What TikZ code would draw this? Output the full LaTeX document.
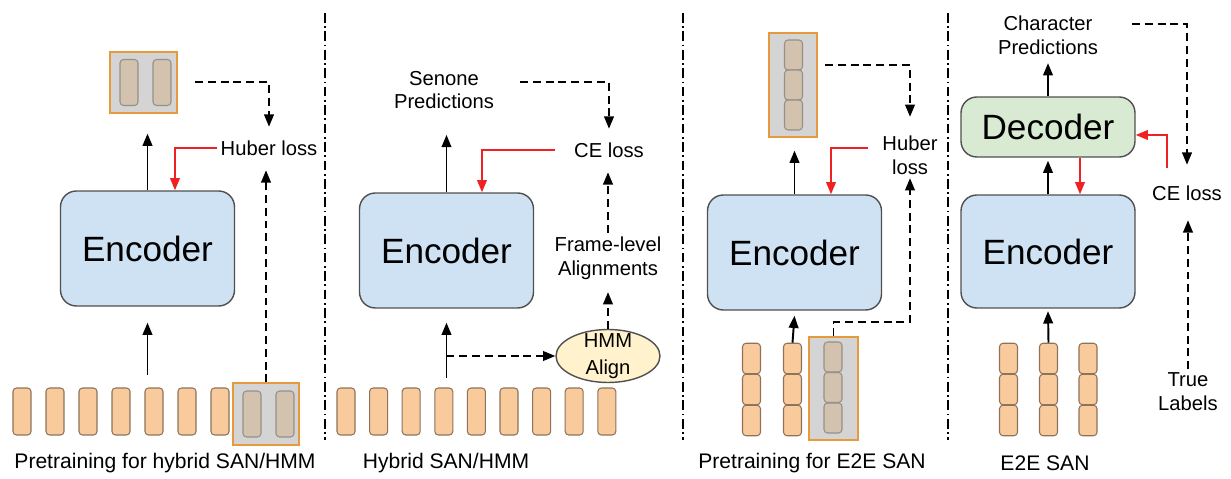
\documentclass[tikz,border=0pt]{standalone}
\usepackage{fontspec}
\setmainfont{Liberation Sans}
\usepackage{tikz}
\usetikzlibrary{arrows.meta,positioning,calc,shapes.geometric}
\usepackage{xcolor}
\definecolor{frmfill}{HTML}{F9CB9C}
\definecolor{frmline}{HTML}{8C735A}
\definecolor{tgtfill}{HTML}{D2C2AE}
\definecolor{tgtline}{HTML}{969088}
\definecolor{boxfill}{HTML}{D4D4D4}
\definecolor{boxline}{HTML}{E69A3C}
\definecolor{encfill}{HTML}{CFE2F3}
\definecolor{decfill}{HTML}{D9EAD3}
\definecolor{alnfill}{HTML}{FFF2CC}
\definecolor{blkline}{HTML}{505050}
\definecolor{lossred}{HTML}{EE2222}
\tikzset{
  frm/.style={rectangle, rounded corners=2pt, draw=frmline, fill=frmfill, line width=0.6pt, minimum width=0.36cm, minimum height=0.94cm, inner sep=0pt},
  cell/.style={frm, minimum height=0.61cm},
  tgt/.style={frm, draw=tgtline, fill=tgtfill, minimum height=0.92cm},
  tgtcell/.style={tgt, minimum height=0.6cm},
  tbox/.style={rectangle, draw=boxline, fill=boxfill, line width=0.7pt, inner sep=0pt},
  blk/.style={rectangle, rounded corners=9pt, draw=blkline, line width=0.8pt, minimum width=3.48cm, font=\fontsize{20}{24}\selectfont},
  lbl/.style={font=\fontsize{11.5}{13.5}\selectfont, align=center, inner sep=2pt},
  capt/.style={font=\fontsize{12}{14}\selectfont, inner sep=2pt},
  arr/.style={-{Triangle[length=7pt,width=5.5pt]}, line width=1.1pt},
  darr/.style={arr, dash pattern=on 4.5pt off 2.8pt},
  rarr/.style={arr, lossred},
  divider/.style={line width=1.1pt, dash pattern=on 5.5pt off 2pt on 1pt off 2pt}
}
\begin{document}
\begin{tikzpicture}[x=0.02cm, y=-0.02cm]
\useasboundingbox (0,0) rectangle (1231,479);

\foreach \x in {325,683,948} \draw[divider] (\x,13) -- (\x,440);

\node[blk, fill=encfill, minimum height=2.3cm] (enc_a) at (147.5,248.5) {Encoder};
\node[tbox, minimum width=1.34cm, minimum height=1.22cm] (out_a) at (143.5,82.5) {};
\node[tgt] (out_a1) at (129,82.5) {};
\node[tgt] (out_a2) at (162,82.5) {};
\node[lbl] (huber_a) at (269,148) {Huber loss};
\foreach \i in {0,...,6} \node[frm] (in_a\i) at (22+33*\i,411.5) {};
\node[tbox, minimum width=1.32cm, minimum height=1.24cm] (msk_a) at (266,414) {};
\node[tgt] (msk_a1) at (252,414) {};
\node[tgt] (msk_a2) at (285,414) {};
\node[capt] (cap_a) at (165,463) {Pretraining for hybrid SAN/HMM};
\coordinate (src_a) at (147.5,375);
\coordinate (sim_a) at (195,82);
\path (src_a) edge[arr] ([yshift=-0.32cm]enc_a.south);
\path (enc_a.north) edge[arr, shorten >=0.4cm] (enc_a.north |- out_a.south);
\draw[darr] (sim_a) -| ([yshift=0.2cm]huber_a.north);
\draw[rarr] (huber_a.west) -| ([xshift=0.55cm]enc_a.north);
\draw[darr, shorten >=0.22cm] (msk_a.north) -- (msk_a.north |- huber_a.south);

\node[blk, fill=encfill, minimum height=2.3cm] (enc_b) at (446.5,250.5) {Encoder};
\node[lbl] (sen_b) at (444,90) {Senone\\Predictions};
\node[lbl] (ce_b) at (609,150) {CE loss};
\node[lbl] (aln_b) at (608,258) {Frame-level\\Alignments};
\node[ellipse, draw=blkline, fill=alnfill, line width=0.8pt, lbl, font=\fontsize{11.5}{15}\selectfont, inner xsep=0pt, inner ysep=-2.5pt, minimum width=2.08cm, minimum height=1.06cm] (hmm_b) at (608,356) {HMM\\Align};
\foreach \i in {0,...,8} \node[frm] (in_b\i) at (346+32.6*\i,411.5) {};
\node[capt] (cap_b) at (446,463) {Hybrid SAN/HMM};
\coordinate (src_b) at (446.5,378);
\coordinate (brn_b) at (446.5,356);
\coordinate (sim_b) at (520,82);
\path (src_b) edge[arr] ([yshift=-0.28cm]enc_b.south);
\path (enc_b.north) edge[arr, shorten >=0.44cm] (enc_b.north |- sen_b.south);
\draw[darr] (sim_b) -| ([yshift=0.2cm]ce_b.north);
\draw[rarr] ([xshift=-0.3cm]ce_b.west) -| ([xshift=0.71cm]enc_b.north);
\draw[darr, shorten >=0.22cm] (aln_b.north) -- (aln_b.north |- ce_b.south);
\draw[darr, shorten >=0.18cm] (hmm_b.north) -- (aln_b.south);
\draw[darr] (brn_b) -- (hmm_b.west);

\node[blk, fill=encfill, minimum height=2.3cm] (enc_c) at (794.5,252.5) {Encoder};
\node[tbox, minimum width=0.96cm, minimum height=2.08cm] (out_c) at (793,85) {};
\foreach \j in {0,1,2} \node[tgtcell] (out_c\j) at (793.5,55+30*\j) {};
\node[lbl] (huber_c) at (910,155) {Huber\\loss};
\foreach \i/\x in {0/751.5,1/792.5} \foreach \j in {0,1,2} \node[cell] (in_c\i\j) at (\x,358.5+31*\j) {};
\node[tbox, minimum width=0.98cm, minimum height=2.06cm] (msk_c) at (833.5,388.5) {};
\foreach \j in {0,1,2} \node[tgtcell] (msk_c\j) at (833,357+30.5*\j) {};
\node[capt] (cap_c) at (812,463) {Pretraining for E2E SAN};
\coordinate (sim_c) at (825,65);
\path (enc_c.north) edge[arr, shorten >=0.26cm] (enc_c.north |- out_c.south);
\draw[darr] (sim_c) -| ([yshift=0.3cm]huber_c.north);
\draw[rarr] ([xshift=-0.22cm, yshift=0.14cm]huber_c.west) -| ([xshift=0.73cm]enc_c.north);
\path (in_c10.north) edge[arr] ([yshift=-0.1cm]enc_c.south);
\draw[darr] (msk_c.north) -- ++(0,-14) -| (huber_c.south);

\node[lbl] (chr_d) at (1048,35) {Character\\Predictions};
\node[blk, fill=decfill, minimum height=1.2cm] (dec_d) at (1048,127) {Decoder};
\node[blk, fill=encfill, minimum height=2.26cm] (enc_d) at (1048,251.5) {Encoder};
\node[lbl] (ce_d) at (1187,193) {CE loss};
\node[lbl] (tru_d) at (1188,392) {True\\Labels};
\foreach \i/\x in {0/1008.5,1/1048.5,2/1088} \foreach \j in {0,1,2} \node[cell] (in_d\i\j) at (\x,358.5+31*\j) {};
\node[capt] (cap_d) at (1045,463) {E2E SAN};
\coordinate (sim_d) at (1132,24);
\path (dec_d.north) edge[arr, shorten >=0.1cm] (chr_d.south);
\path (enc_d.north) edge[arr, shorten >=0.06cm] (dec_d.south);
\path ([xshift=0.64cm]dec_d.south) edge[rarr] ([xshift=0.64cm]enc_d.north);
\draw[rarr] ([xshift=-0.4cm, yshift=0.28cm]ce_d.north) |- ([yshift=-0.16cm]dec_d.east);
\draw[darr] (sim_d) -| ([yshift=0.34cm]ce_d.north);
\draw[darr, shorten >=0.32cm] (tru_d.north) -- (tru_d.north |- ce_d.south);
\path (in_d10.north) edge[arr] ([yshift=-0.05cm]enc_d.south);
\end{tikzpicture}
\end{document}
